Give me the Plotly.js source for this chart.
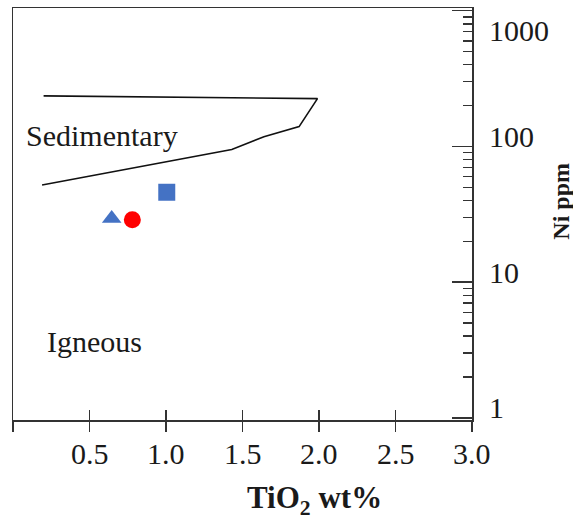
<!DOCTYPE html>
<html>
<head>
<meta charset="utf-8">
<script src="https://cdn.plot.ly/plotly-3.0.1.min.js"></script>
<style>html,body{margin:0;padding:0;background:#fff;}#chart{width:573px;height:519px;}</style>
</head>
<body>
<div id="chart"></div>
<script>
// ---- data ----
var boundaryTiO2 = [0.20, 1.99, 1.87, 1.64, 1.43, 0.19];
var boundaryNi   = [236, 225, 140, 118, 95, 52];

var sampleNames = ["Triangle sample", "Circle sample", "Square sample"];
var sampleTiO2  = [0.645, 0.78, 1.005];
var sampleNi    = [29.5, 28.8, 46];

var xTickVals   = [0, 0.5, 1.0, 1.5, 2.0, 2.5, 3.0];
var xLabelVals  = [0.5, 1.0, 1.5, 2.0, 2.5, 3.0];
var xLabelText  = ["0.5", "1.0", "1.5", "2.0", "2.5", "3.0"];
var yTickVals   = [1, 10, 100, 1000];
var yTickText   = ["1", "10", "100", "1000"];

var fieldLabels = ["Sedimentary", "Igneous"];
var fieldLabelTiO2 = [0.075, 0.21];
var fieldLabelNi   = [120, 3.65];

var xTitle = "TiO<sub>2</sub> wt%";
var yTitle = "Ni ppm";

// ---- styles ----
var FONT = "Liberation Serif, Times New Roman, serif";
var AXC = "#333333";
var TXT = "#1a1a1a";
var sampleStyles = [
  {symbol: "triangle-up", color: "#4472C4", size: 17},
  {symbol: "circle", color: "#FF0000", size: 17},
  {symbol: "square", color: "#4472C4", size: 17}
];

var traces = [{
  x: boundaryTiO2, y: boundaryNi, xaxis: "x3", yaxis: "y",
  mode: "lines", line: {color: "#111", width: 1.6},
  showlegend: false, hoverinfo: "skip"
}];
for (var i = 0; i < sampleTiO2.length; i++) {
  traces.push({
    x: [sampleTiO2[i]], y: [sampleNi[i]], name: sampleNames[i],
    xaxis: "x2", yaxis: "y",
    mode: "markers", showlegend: false,
    marker: {symbol: sampleStyles[i].symbol, color: sampleStyles[i].color,
             size: sampleStyles[i].size, line: {width: 0}}
  });
}

var annotations = [];
for (var j = 0; j < yTickVals.length; j++) {
  var isTop = yTickVals[j] === Math.max.apply(null, yTickVals);
  annotations.push({
    xref: "paper", yref: "y", x: 1, y: Math.log10(yTickVals[j]),
    xanchor: "left", yanchor: "middle", xshift: 15, yshift: isTop ? -20 : 10,
    text: yTickText[j], showarrow: false,
    font: {family: FONT, size: 30, color: TXT}
  });
}
for (var m = 0; m < xLabelVals.length; m++) {
  annotations.push({
    xref: "x", yref: "paper", x: xLabelVals[m], y: 0,
    xanchor: "center", yanchor: "middle", yshift: -33,
    text: xLabelText[m], showarrow: false,
    font: {family: FONT, size: 30, color: TXT}
  });
}
for (var k = 0; k < fieldLabels.length; k++) {
  annotations.push({
    xref: "x", yref: "y", x: fieldLabelTiO2[k], y: Math.log10(fieldLabelNi[k]),
    xanchor: "left", yanchor: "middle", text: fieldLabels[k], showarrow: false,
    font: {family: FONT, size: 30, color: TXT}
  });
}
annotations.push({
  xref: "paper", yref: "paper", x: 0.656, y: 0, xanchor: "center", yanchor: "middle",
  yshift: -80, text: "<b>" + xTitle + "</b>", showarrow: false,
  font: {family: FONT, size: 31, color: TXT}
});
annotations.push({
  xref: "paper", yref: "paper", x: 1, y: 0.53, xanchor: "center", yanchor: "middle",
  xshift: 89, textangle: -90, text: "<b>" + yTitle + "</b>", showarrow: false,
  font: {family: FONT, size: 24, color: TXT}
});

var tickCommon = {tickwidth: 1.5, tickcolor: AXC, showgrid: false, zeroline: false};

var layout = {
  width: 573, height: 519,
  margin: {l: 13, r: 101, t: 8, b: 99, pad: 0},
  paper_bgcolor: "#fff", plot_bgcolor: "#fff",
  showlegend: false,
  xaxis: Object.assign({
    range: [0, 3], tickmode: "array", tickvals: xTickVals,
    ticks: "outside", ticklen: 10, showticklabels: false,
    showline: true, linecolor: AXC, linewidth: 1.5, mirror: true
  }, tickCommon),
  xaxis2: Object.assign({
    overlaying: "x", anchor: "y", side: "bottom",
    range: [0, 3], tickmode: "array", tickvals: xTickVals,
    ticks: "inside", ticklen: 10, showticklabels: false, showline: false
  }, tickCommon),
  xaxis3: Object.assign({
    overlaying: "x", anchor: "y", side: "bottom",
    range: [0, 3], tickmode: "array", tickvals: xTickVals,
    ticks: "outside", ticklen: 10, showticklabels: false, showline: false
  }, tickCommon),
  yaxis: Object.assign({
    type: "log", side: "right", range: [-0.015, 3.02],
    tickmode: "linear", tick0: 0, dtick: 1,
    ticks: "inside", ticklen: 20,
    showticklabels: false,
    showline: true, linecolor: AXC, linewidth: 1.5, mirror: true,
    minor: {ticks: "inside", ticklen: 9, tickwidth: 1.5, tickcolor: AXC, dtick: "D1", showgrid: false}
  }, tickCommon),
  annotations: annotations
};

Plotly.newPlot("chart", traces, layout, {staticPlot: true, displayModeBar: false});
</script>
</body>
</html>
